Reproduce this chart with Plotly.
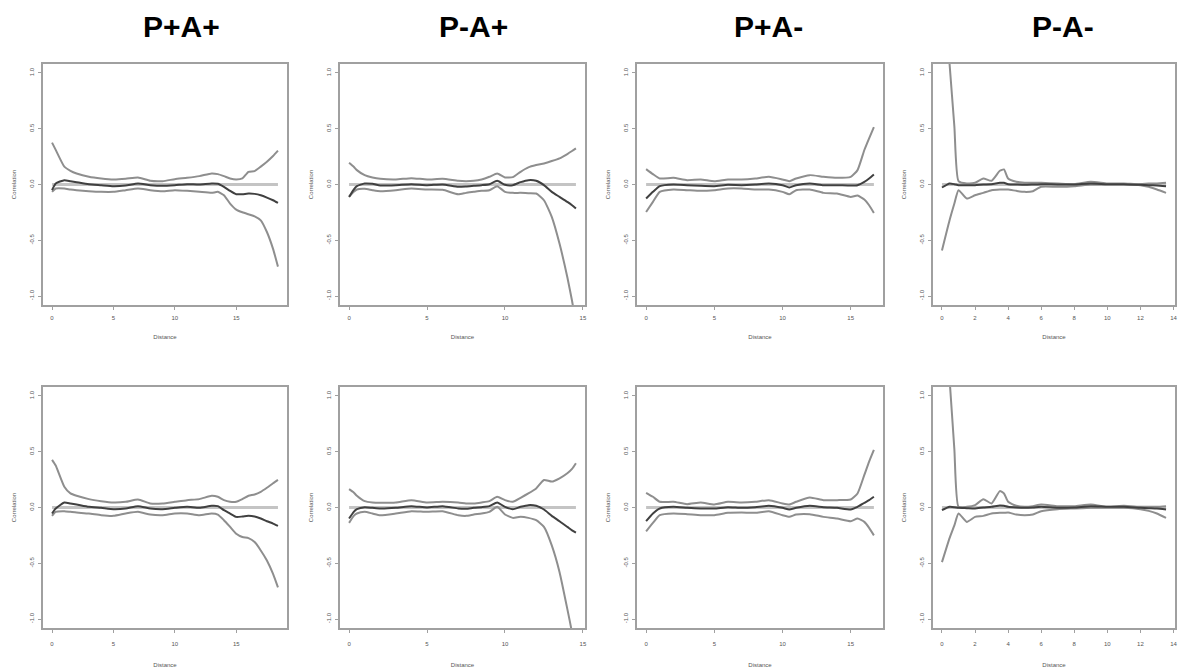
import plotly.graph_objects as go

W, H = 1179, 668

panel_titles = ["P+A+", "P-A+", "P+A-", "P-A-"]

# ---------------- data (distance grids + spline correlogram curves) ----------------
# Row 1
d1 = [0, 0.3, 1, 1.5, 2, 3, 4, 5, 6, 7, 8, 9, 10, 11, 12, 13, 13.5, 14, 14.5, 15, 15.5, 16, 16.5, 17, 17.5, 18, 18.4]
up1 = [0.375, 0.31, 0.16, 0.123, 0.099, 0.069, 0.054, 0.045, 0.051, 0.063, 0.033, 0.03, 0.048, 0.06, 0.075, 0.099, 0.093, 0.075, 0.054, 0.045, 0.054, 0.114, 0.12, 0.16, 0.204, 0.255, 0.303]
mn1 = [-0.051, 0.009, 0.039, 0.03, 0.021, 0.003, -0.006, -0.015, -0.009, 0.009, -0.006, -0.012, -0.006, 0.003, 0.0, 0.009, 0.006, -0.021, -0.057, -0.087, -0.087, -0.081, -0.084, -0.096, -0.117, -0.141, -0.165]
lo1 = [-0.066, -0.036, -0.036, -0.045, -0.051, -0.06, -0.066, -0.066, -0.051, -0.036, -0.051, -0.06, -0.051, -0.057, -0.066, -0.075, -0.066, -0.096, -0.171, -0.225, -0.249, -0.267, -0.285, -0.321, -0.426, -0.577, -0.736]

d2 = [0, 0.3, 0.5, 1, 1.5, 2, 3, 4, 5, 6, 7, 7.5, 8, 8.5, 9, 9.5, 10, 10.5, 11, 11.5, 12, 12.5, 13, 13.5, 14, 14.3, 14.55]
up2 = [0.195, 0.159, 0.129, 0.084, 0.063, 0.051, 0.045, 0.057, 0.045, 0.051, 0.033, 0.03, 0.033, 0.045, 0.069, 0.099, 0.063, 0.066, 0.114, 0.153, 0.174, 0.189, 0.21, 0.234, 0.273, 0.3, 0.324]
mn2 = [-0.111, -0.045, -0.015, 0.009, 0.006, -0.009, -0.006, 0.003, -0.006, 0.0, -0.021, -0.018, -0.012, -0.006, 0.003, 0.033, -0.003, -0.006, 0.021, 0.039, 0.033, -0.006, -0.066, -0.111, -0.156, -0.186, -0.216]
lo2 = [-0.111, -0.066, -0.045, -0.039, -0.051, -0.06, -0.051, -0.036, -0.045, -0.048, -0.087, -0.075, -0.066, -0.057, -0.051, -0.015, -0.066, -0.075, -0.075, -0.078, -0.081, -0.141, -0.291, -0.532, -0.832, -1.042, -1.25]

d3 = [0, 0.5, 1, 2, 3, 4, 5, 6, 7, 8, 9, 10, 10.5, 11, 12, 13, 14, 15, 15.5, 16, 16.35, 16.7]
up3 = [0.138, 0.093, 0.054, 0.06, 0.039, 0.045, 0.03, 0.045, 0.045, 0.054, 0.069, 0.045, 0.03, 0.054, 0.084, 0.069, 0.06, 0.069, 0.129, 0.309, 0.414, 0.514]
mn3 = [-0.126, -0.066, -0.015, 0.0, -0.006, -0.012, -0.015, -0.003, -0.006, 0.0, 0.009, -0.006, -0.027, -0.006, 0.009, -0.006, -0.006, -0.009, -0.006, 0.024, 0.054, 0.09]
lo3 = [-0.246, -0.156, -0.066, -0.045, -0.051, -0.057, -0.051, -0.036, -0.036, -0.045, -0.045, -0.066, -0.087, -0.051, -0.045, -0.075, -0.081, -0.111, -0.099, -0.135, -0.186, -0.255]

d4 = [0, 0.46, 0.75, 1, 1.5, 2, 2.5, 3, 3.5, 3.75, 4, 4.5, 5, 5.5, 6, 7, 8, 9, 10, 11, 12, 12.5, 13, 13.55]
up4 = [2.0, 1.08, 0.52, 0.03, 0.009, 0.015, 0.054, 0.033, 0.123, 0.135, 0.054, 0.024, 0.015, 0.015, 0.015, 0.009, 0.003, 0.024, 0.009, 0.009, 0.003, 0.009, 0.009, 0.015]
mn4 = [-0.027, 0.009, 0.003, -0.006, -0.006, -0.006, 0.0, 0.003, 0.015, 0.015, 0.003, 0.0, -0.003, 0.0, 0.003, 0.0, 0.0, 0.009, 0.003, 0.003, -0.003, -0.006, -0.009, -0.015]
lo4 = [-0.592, -0.321, -0.171, -0.051, -0.126, -0.096, -0.075, -0.051, -0.045, -0.045, -0.045, -0.057, -0.066, -0.06, -0.021, -0.021, -0.015, 0.0, 0.0, 0.0, -0.006, -0.021, -0.045, -0.075]

# Row 2
d5 = d1
up5 = [0.427, 0.376, 0.186, 0.126, 0.105, 0.075, 0.057, 0.045, 0.051, 0.072, 0.036, 0.036, 0.051, 0.066, 0.075, 0.105, 0.096, 0.066, 0.051, 0.051, 0.075, 0.105, 0.117, 0.141, 0.177, 0.217, 0.247]
mn5 = [-0.054, -0.009, 0.045, 0.036, 0.027, 0.006, -0.003, -0.015, -0.009, 0.012, -0.009, -0.015, -0.003, 0.006, -0.003, 0.015, 0.012, -0.024, -0.054, -0.084, -0.081, -0.075, -0.081, -0.099, -0.123, -0.144, -0.165]
lo5 = [-0.075, -0.039, -0.033, -0.039, -0.045, -0.054, -0.069, -0.075, -0.054, -0.039, -0.063, -0.069, -0.054, -0.054, -0.069, -0.054, -0.063, -0.114, -0.174, -0.235, -0.265, -0.274, -0.31, -0.385, -0.475, -0.595, -0.716]

d6 = d2
up6 = [0.165, 0.135, 0.105, 0.057, 0.045, 0.042, 0.045, 0.066, 0.045, 0.051, 0.045, 0.036, 0.036, 0.045, 0.057, 0.096, 0.066, 0.051, 0.087, 0.126, 0.171, 0.247, 0.232, 0.262, 0.307, 0.346, 0.397]
mn6 = [-0.099, -0.039, -0.015, 0.003, -0.003, -0.009, -0.003, 0.012, 0.0, 0.012, -0.009, -0.012, -0.003, 0.003, 0.012, 0.045, 0.006, -0.015, 0.006, 0.021, 0.015, -0.018, -0.075, -0.123, -0.174, -0.205, -0.226]
lo6 = [-0.138, -0.075, -0.054, -0.039, -0.054, -0.069, -0.054, -0.033, -0.039, -0.033, -0.069, -0.075, -0.063, -0.054, -0.039, 0.006, -0.063, -0.093, -0.084, -0.093, -0.114, -0.174, -0.34, -0.58, -0.911, -1.12, -1.33]

d7 = d3
up7 = [0.132, 0.096, 0.051, 0.051, 0.03, 0.045, 0.027, 0.051, 0.045, 0.051, 0.066, 0.036, 0.027, 0.051, 0.09, 0.066, 0.066, 0.072, 0.126, 0.292, 0.412, 0.517]
mn7 = [-0.123, -0.054, -0.009, 0.006, -0.003, -0.009, -0.009, 0.003, -0.003, 0.003, 0.015, -0.003, -0.018, -0.003, 0.015, 0.003, -0.003, -0.018, 0.006, 0.042, 0.066, 0.096]
lo7 = [-0.214, -0.138, -0.069, -0.054, -0.06, -0.069, -0.069, -0.048, -0.045, -0.048, -0.033, -0.069, -0.084, -0.063, -0.06, -0.084, -0.099, -0.123, -0.099, -0.129, -0.183, -0.25]

d8 = d4
up8 = [2.0, 1.15, 0.52, 0.006, 0.006, 0.021, 0.075, 0.036, 0.147, 0.126, 0.051, 0.015, 0.006, 0.012, 0.027, 0.012, 0.012, 0.027, 0.006, 0.015, 0.006, 0.006, 0.006, 0.012]
mn8 = [-0.024, 0.006, 0.003, -0.003, -0.006, -0.009, 0.0, 0.006, 0.018, 0.015, 0.006, 0.0, -0.003, 0.0, 0.006, -0.003, 0.0, 0.012, 0.006, 0.006, -0.003, -0.006, -0.009, -0.018]
lo8 = [-0.49, -0.274, -0.16, -0.054, -0.129, -0.084, -0.075, -0.054, -0.048, -0.048, -0.045, -0.063, -0.069, -0.063, -0.033, -0.015, -0.009, -0.003, -0.003, -0.003, -0.015, -0.03, -0.054, -0.093]

y_ticks = [-1.0, -0.5, 0.0, 0.5, 1.0]
y_tick_text = ["-1.0", "-0.5", "0.0", "0.5", "1.0"]
x_ticks_a = [0, 5, 10, 15]
x_ticks_b = [0, 2, 4, 6, 8, 10, 12, 14]

panels = [
    (d1, up1, mn1, lo1, x_ticks_a), (d2, up2, mn2, lo2, x_ticks_a),
    (d3, up3, mn3, lo3, x_ticks_a), (d4, up4, mn4, lo4, x_ticks_b),
    (d5, up5, mn5, lo5, x_ticks_a), (d6, up6, mn6, lo6, x_ticks_a),
    (d7, up7, mn7, lo7, x_ticks_a), (d8, up8, mn8, lo8, x_ticks_b),
]

# ---------------- layout geometry (pixels) ----------------
col_px = [(43, 287), (340, 585), (637, 883), (933, 1175)]
row_px = [(64, 305), (387, 628)]
row_ticklabel_standoff = [3, 6]
row_title_standoff = [15, 19]

fig = go.Figure()
layout = {}
small_font = dict(family="Liberation Sans", size=6, color="#555555")
for i, (d, up, mn, lo, xt) in enumerate(panels):
    r, c = divmod(i, 4)
    n = i + 1
    xa = "x" if n == 1 else f"x{n}"
    ya = "y" if n == 1 else f"y{n}"
    xmax = max(d)
    pad = 0.04 * xmax
    # zero line
    fig.add_trace(go.Scatter(x=[0, xmax], y=[0, 0], mode="lines",
                             line=dict(color="#c4c4c4", width=3),
                             xaxis=xa, yaxis=ya, showlegend=False, hoverinfo="skip"))
    for ys in (up, lo):
        fig.add_trace(go.Scatter(x=d, y=ys, mode="lines",
                                 line=dict(color="#8e8e8e", width=2, shape="spline", smoothing=0.5),
                                 xaxis=xa, yaxis=ya, showlegend=False))
    fig.add_trace(go.Scatter(x=d, y=mn, mode="lines",
                             line=dict(color="#404040", width=2, shape="spline", smoothing=0.5),
                             xaxis=xa, yaxis=ya, showlegend=False))
    x0, x1 = col_px[c]
    yt, yb = row_px[r]
    axis_common = dict(showline=True, linecolor="#a0a0a0", linewidth=1.5, mirror=True,
                       ticks="outside", ticklen=3, tickcolor="#a0a0a0", tickwidth=1,
                       showgrid=False, zeroline=False, automargin=False,
                       ticklabeloverflow="allow", tickfont=small_font)
    layout["xaxis" if n == 1 else f"xaxis{n}"] = dict(
        domain=[x0 / W, x1 / W], anchor=ya, range=[-pad, xmax + pad],
        tickmode="array", tickvals=xt, ticktext=[str(v) for v in xt],
        ticklabelstandoff=row_ticklabel_standoff[r],
        title=dict(text="Distance", font=small_font, standoff=row_title_standoff[r]),
        **axis_common)
    layout["yaxis" if n == 1 else f"yaxis{n}"] = dict(
        domain=[1 - yb / H, 1 - yt / H], anchor=xa, range=[-1.08, 1.08],
        tickmode="array", tickvals=y_ticks, ticktext=y_tick_text, tickangle=-90,
        ticklabelstandoff=2,
        title=dict(text="Correlation", font=small_font, standoff=12),
        **axis_common)

title_x = [181, 473, 768, 1063]
annotations = [dict(text=f"<b>{t}</b>", x=tx / W, y=1 - 26 / H, xref="paper", yref="paper",
                    showarrow=False, xanchor="center", yanchor="middle",
                    font=dict(family="Liberation Sans", size=30, color="black"))
               for t, tx in zip(panel_titles, title_x)]

fig.update_layout(width=W, height=H, margin=dict(l=0, r=0, t=0, b=0),
                  paper_bgcolor="white", plot_bgcolor="white",
                  annotations=annotations, **layout)
fig.write_html("out.html", config={"displayModeBar": False},
               post_script="document.body.style.margin='0';document.body.style.overflow='hidden';")
